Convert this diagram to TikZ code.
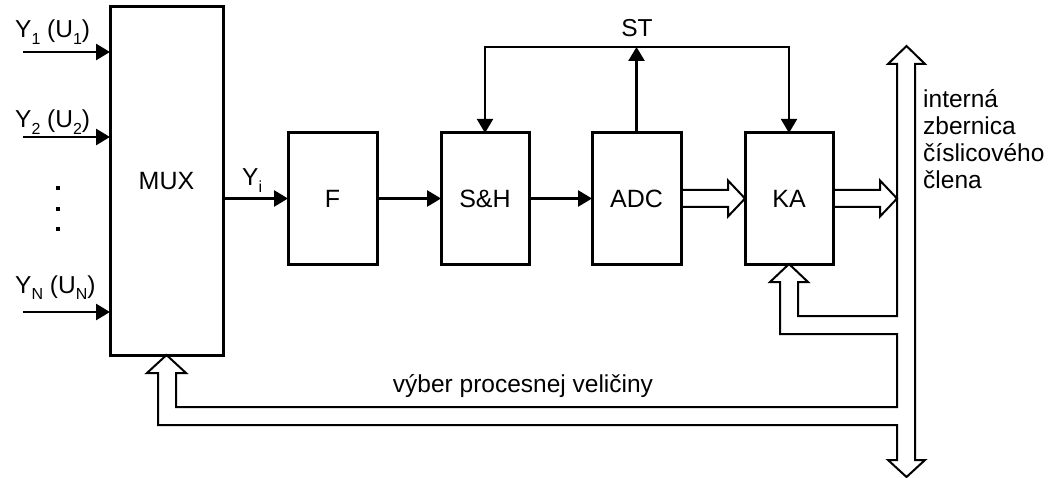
\documentclass[tikz,border=0pt]{standalone}
\usepackage{fontspec}
\setmainfont{Liberation Sans}
\usetikzlibrary{arrows.meta,calc}
\newcommand\sbs[1]{\raisebox{-6.5pt}{\fontsize{16}{16}\selectfont #1}}
\begin{document}
\begin{tikzpicture}[x=1pt,y=-1pt,
  blk/.style={draw, line width=3pt, inner sep=0pt, outer sep=0pt, font=\fontsize{25}{29}\selectfont},
  sig/.style={line width=2.6pt, -{Triangle[length=14pt,width=16pt]}},
  stline/.style={line width=2pt, -{Triangle[length=14pt,width=16pt]}},
  hollow/.style={line width=2pt, line join=miter},
  lbl/.style={font=\fontsize{24.5}{28}\selectfont, inner sep=0pt},
  dot/.style={fill, inner sep=0pt, minimum size=3.5pt}]
\useasboundingbox (0,0) rectangle (1048,478);
% blocks
\node[blk, minimum width=113pt, minimum height=348pt] (mux) at (166.5,181) {MUX};
\node[blk, minimum width=89pt, minimum height=131pt] (f) at (332.5,198.5) {F};
\node[blk, minimum width=88pt, minimum height=131pt] (sh) at (485,198.5) {S\&H};
\node[blk, minimum width=89pt, minimum height=131pt] (adc) at (636.5,198.5) {ADC};
\node[blk, minimum width=88pt, minimum height=131pt] (ka) at (789,198.5) {KA};
% inputs
\coordinate (i1) at (23,52);
\coordinate (i2) at (23,137);
\coordinate (iN) at (23,312);
\draw[sig] (i1) -- (i1 -| mux.west);
\draw[sig] (i2) -- (i2 -| mux.west);
\draw[sig] (iN) -- (iN -| mux.west);
\node[lbl, anchor=base west] (l1) at (15,38) {Y\sbs{1} (U\sbs{1})};
\node[lbl, anchor=base west] (l2) at (15,128) {Y\sbs{2} (U\sbs{2})};
\node[lbl, anchor=base west] (lN) at (15,293) {Y\sbs{N} (U\sbs{N})};
\node[dot] (d1) at (58,188) {};
\node[dot] (d2) at (58,209) {};
\node[dot] (d3) at (58,229) {};
% signal chain
\draw[sig] (mux.east |- f.west) -- (f.west);
\draw[sig] (f.east) -- (sh.west);
\draw[sig] (sh.east) -- (adc.west);
\node[lbl, anchor=base west] (yi) at (242,186) {Y\sbs{i}};
% ST
\coordinate (st) at (adc.north |- 0,47);
\draw[sig] (adc.north) -- (st);
\draw[stline] (st) -| (sh.north);
\draw[stline] (st) -| (ka.north);
\node[lbl, anchor=base] (stlabel) at (637,37) {ST};
% hollow arrows
\draw[hollow] ([yshift=8.5pt]adc.east) -- ([xshift=-17pt,yshift=8.5pt]ka.west) -- ([xshift=-17pt,yshift=18pt]ka.west) -- (ka.west) -- ([xshift=-17pt,yshift=-18pt]ka.west) -- ([xshift=-17pt,yshift=-8.5pt]ka.west) -- ([yshift=-8.5pt]adc.east);
\coordinate (busin) at (897,198.5);
\draw[hollow] ([yshift=8.5pt]ka.east) -- ([xshift=-17pt,yshift=8.5pt]busin) -- ([xshift=-17pt,yshift=18pt]busin) -- (busin) -- ([xshift=-17pt,yshift=-18pt]busin) -- ([xshift=-17pt,yshift=-8.5pt]busin) -- ([yshift=-8.5pt]ka.east);
% bus
\coordinate (bt) at (906.5,46);
\coordinate (bb) at (906.5,477);
\draw[hollow] (915,64) -- (925,64) -- (bt) -- (888,64) -- (897,64) -- (897,316) -- (798,316) -- (798,282) -- (808,282) -- (ka.south) -- (770,282) -- (780,282) -- (780,334) -- (897,334) -- (897,407) -- (176,407) -- (176,373) -- (186,373) -- (mux.south) -- (147,373) -- (158,373) -- (158,425) -- (897,425) -- (897,460) -- (888,460) -- (bb) -- (925,460) -- (915,460) -- cycle;
\node[font=\fontsize{24.5}{27}\selectfont, align=left, anchor=north west, inner sep=0pt] (buslabel) at (923,89) {interná\\zbernica\\číslicového\\člena};
\node[lbl, anchor=base] (vyber) at (523,392) {výber procesnej veličiny};
\end{tikzpicture}
\end{document}
